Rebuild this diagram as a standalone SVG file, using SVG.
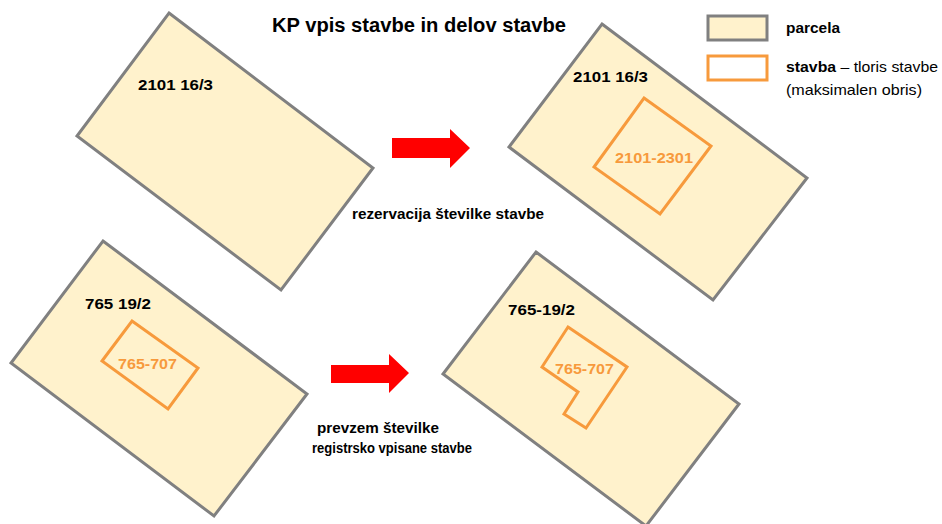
<svg xmlns="http://www.w3.org/2000/svg" width="942" height="524" viewBox="0 0 942 524">
<style>
.parcel{fill:#FFF2CC;stroke:#808080;stroke-width:3;stroke-linejoin:miter}
.bld{fill:none;stroke:#F79A3C;stroke-width:3;stroke-linejoin:miter}
.t{font-family:"Liberation Sans",Arial,sans-serif;font-weight:bold;font-size:15px;fill:#000}
.o{font-family:"Liberation Sans",Arial,sans-serif;font-weight:bold;font-size:15px;fill:#F79A3C}
.n{font-family:"Liberation Sans",Arial,sans-serif;font-size:15px;fill:#000}
.arrow{fill:#FF0000}
</style>
<rect width="942" height="524" fill="#FFFFFF"/>
<text id="title" class="t" x="272" y="32" style="font-size:20px" textLength="294" lengthAdjust="spacingAndGlyphs">KP vpis stavbe in delov stavbe</text>

<g id="legend">
<rect class="parcel" x="708" y="16" width="59" height="24"/>
<text class="t" x="786" y="33" textLength="54" lengthAdjust="spacingAndGlyphs">parcela</text>
<rect x="708" y="56" width="59" height="24" fill="#FFFFFF" stroke="#F79A3C" stroke-width="3"/>
<text class="n" x="786" y="72" textLength="152" lengthAdjust="spacingAndGlyphs"><tspan font-weight="bold">stavba</tspan> – tloris stavbe</text>
<text class="n" x="786" y="95" textLength="136" lengthAdjust="spacingAndGlyphs">(maksimalen obris)</text>
</g>

<g id="parcel-tl">
<polygon class="parcel" points="169,13 373,168 281,290 77,136"/>
<text class="t" x="138" y="90" textLength="75" lengthAdjust="spacingAndGlyphs">2101 16/3</text>
</g>

<g id="parcel-tr">
<polygon class="parcel" points="602,24 807,178 713,300 509,147"/>
<text class="t" x="573" y="82" textLength="75" lengthAdjust="spacingAndGlyphs">2101 16/3</text>
</g>
<g id="building-tr">
<polygon class="bld" points="644,98 711,146 660,214 594,167"/>
<text class="o" x="615" y="163" textLength="78" lengthAdjust="spacingAndGlyphs">2101-2301</text>
</g>

<g id="parcel-bl">
<polygon class="parcel" points="103,241 307,394 214,516 11,363"/>
<text class="t" x="85" y="309" textLength="66" lengthAdjust="spacingAndGlyphs">765 19/2</text>
</g>
<g id="building-bl">
<polygon class="bld" points="132,321 198,368 168,409 102,361"/>
<text class="o" x="118" y="369" textLength="59" lengthAdjust="spacingAndGlyphs">765-707</text>
</g>

<g id="parcel-br">
<polygon class="parcel" points="536,252 739,404 646,526 443,374"/>
<text class="t" x="508" y="315" textLength="67" lengthAdjust="spacingAndGlyphs">765-19/2</text>
</g>
<g id="building-br">
<polygon class="bld" points="568,327 627,367 586,428 564,414 578,392 542,367"/>
<text class="o" x="555" y="374" textLength="59" lengthAdjust="spacingAndGlyphs">765-707</text>
</g>

<g id="connectors">
<polygon class="arrow" points="392,138 450,138 450,129 470,148 450,168 450,158 392,158"/>
<polygon class="arrow" points="331,365 389,365 389,354 409,373 389,393 389,383 331,383"/>
</g>

<g id="labels">
<text class="t" x="352" y="219" textLength="192" lengthAdjust="spacingAndGlyphs">rezervacija številke stavbe</text>
<text class="t" x="317" y="433" textLength="122" lengthAdjust="spacingAndGlyphs">prevzem številke</text>
<text class="t" x="312" y="453" textLength="160" lengthAdjust="spacingAndGlyphs">registrsko vpisane stavbe</text>
</g>
</svg>
